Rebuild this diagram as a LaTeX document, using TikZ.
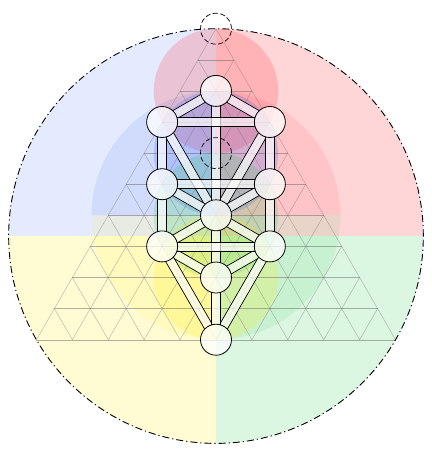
\documentclass[tikz,border=0pt]{standalone}
\usepackage[dvipsnames]{xcolor}
\usetikzlibrary{positioning,calc}
\definecolor{fire}{RGB}{255,40,50}
\definecolor{water}{RGB}{40,90,250}
\definecolor{air}{RGB}{255,240,0}
\definecolor{earth}{RGB}{40,200,80}
\def\hw{0.57735}
\pgfdeclarelayer{back}
\pgfdeclarelayer{paths}
\pgfsetlayers{back,paths,main}
\tikzset{sephira/.style={draw,circle,fill=white,fill opacity=.75,minimum size=31pt,inner sep=0pt,line width=.8pt}  }
\tikzset{hidden/.style={draw,circle,dash pattern=on 5pt off 2.5pt,minimum size=31pt,inner sep=0pt,line width=.7pt}  }
\tikzset{gridline/.style={black!60,line width=.4pt,opacity=.5}  }
\tikzset{chanfill/.style={fill=white,fill opacity=.7}  }
\tikzset{chanline/.style={line width=.7pt}  }
\tikzset{halo/.style={fill opacity=.2}  }
\newcommand{\channel}[2]{%
  \path ($(#1.center)!14.8pt!(#2.center)$) coordinate (c1)
        ($(#2.center)!14.8pt!(#1.center)$) coordinate (c2);
  \fill[chanfill] ($(c1)!4.5pt!90:(c2)$) -- ($(c2)!4.5pt!-90:(c1)$)
        -- ($(c2)!4.5pt!90:(c1)$) -- ($(c1)!4.5pt!-90:(c2)$) -- cycle;
  \draw[chanline] ($(c1)!4.5pt!90:(c2)$) -- ($(c2)!4.5pt!-90:(c1)$)
        ($(c2)!4.5pt!90:(c1)$) -- ($(c1)!4.5pt!-90:(c2)$);}

\begin{document}
\begin{tikzpicture}[x=31.1pt,y=31.1pt]
	\useasboundingbox (-6.945,-8.125) rectangle (6.945,6.923);

		\node[sephira] (kether) at (0,4) {};
		\node[sephira] (chokmah) at (1.732,3) {};
		\node[sephira] (binah) at (-1.732,3) {};
		\node[sephira] (chesed) at (1.732,1) {};
		\node[sephira] (geburah) at (-1.732,1) {};
		\node[sephira] (tiphareth) at (0,0) {};
		\node[sephira] (netzach) at (1.732,-1) {};
		\node[sephira] (hod) at (-1.732,-1) {};
		\node[sephira] (yesod) at (0,-2) {};
		\node[sephira] (malkuth) at (0,-4) {};
		\node[hidden] (daath) at (0,2) {};
		\node[hidden] (apex) at (0,6) {};

	\begin{pgfonlayer}{back}
		% four worlds
		\fill[water!12] (0,-2/3) -- (0,6) arc (90:180:20/3) -- cycle;
		\fill[fire!19] (0,-2/3) -- (0,6) arc (90:0:20/3) -- cycle;
		\fill[air!17] (0,-2/3) -- (-20/3,-2/3) arc (180:270:20/3) -- cycle;
		\fill[earth!17] (0,-2/3) -- (20/3,-2/3) arc (0:-90:20/3) -- cycle;
		\fill[water,fill opacity=.1] (0,0) -- (0,4) arc (90:180:4) -- cycle;
		\fill[fire,fill opacity=.1] (0,0) -- (0,4) arc (90:0:4) -- cycle;
		\fill[air,fill opacity=.1] (0,0) -- (-4,0) arc (180:270:4) -- cycle;
		\fill[earth,fill opacity=.1] (0,0) -- (4,0) arc (0:-90:4) -- cycle;
		\fill[fire,halo] (kether.center) circle (2);
		\fill[water,halo] (daath.center) circle (2);
		\fill[earth,halo] (tiphareth.center) circle (2);
		\fill[air,halo] (yesod.center) circle (2);
		% triangle grid
		\foreach \k in {1,...,10}
			\draw[gridline] ({-\k*\hw},{6-\k}) -- ({\k*\hw},{6-\k});
		\foreach \j in {0,...,9} {
			\draw[gridline] ({-\j*\hw},{6-\j}) -- ({(10-2*\j)*\hw},-4);
			\draw[gridline] ({\j*\hw},{6-\j}) -- ({(2*\j-10)*\hw},-4);
		}
	\end{pgfonlayer}

	\begin{pgfonlayer}{paths}
		\channel{chokmah}{tiphareth} \channel{binah}{tiphareth}
		\channel{kether}{chokmah} \channel{kether}{binah}
		\channel{chesed}{tiphareth} \channel{geburah}{tiphareth}
		\channel{netzach}{tiphareth} \channel{hod}{tiphareth}
		\channel{netzach}{yesod} \channel{hod}{yesod}
		\channel{netzach}{malkuth} \channel{hod}{malkuth}
		\channel{kether}{tiphareth} \channel{chokmah}{chesed}
		\channel{binah}{geburah} \channel{chesed}{netzach}
		\channel{geburah}{hod} \channel{tiphareth}{yesod}
		\channel{yesod}{malkuth}
		\channel{chokmah}{binah} \channel{chesed}{geburah}
		\channel{netzach}{hod}
	\end{pgfonlayer}

		\draw[line width=.9pt,dash pattern=on 7pt off 3pt on 1.2pt off 3pt] (0,-2/3) circle (20/3);
\end{tikzpicture}
\end{document}
